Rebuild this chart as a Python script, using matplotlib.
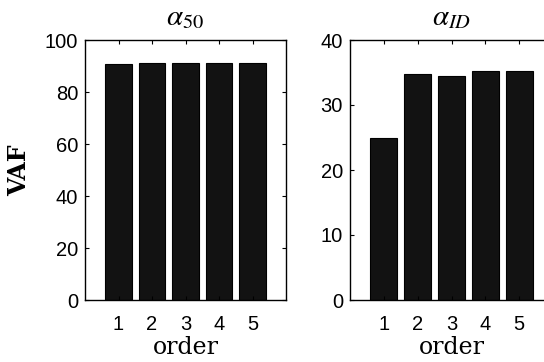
import matplotlib
matplotlib.use("Agg")
import matplotlib.pyplot as plt

order = [1, 2, 3, 4, 5]
vaf_50 = [90.8, 91.2, 91.0, 91.0, 91.0]
vaf_id = [24.9, 34.8, 34.5, 35.3, 35.3]

plt.rcParams["mathtext.fontset"] = "stix"
plt.rcParams["font.family"] = "Liberation Sans"
serif = "DejaVu Serif"

fig = plt.figure(figsize=(5.44, 3.62), dpi=100)
W, H = 544.0, 362.0
ax1 = fig.add_axes([85 / W, 62 / H, 201 / W, 260 / H])
ax2 = fig.add_axes([350 / W, 62 / H, 203 / W, 260 / H])

for ax, vals, ymax, yt, title in [
    (ax1, vaf_50, 100, range(0, 101, 20), r"$\alpha_{50}$"),
    (ax2, vaf_id, 40, range(0, 41, 10), r"$\alpha_{ID}$"),
]:
    ax.bar(order, vals, width=0.8, color="#121212", edgecolor="black", linewidth=0.8)
    ax.set_xlim(0, 6)
    ax.set_ylim(0, ymax)
    ax.set_xticks(order)
    ax.set_yticks(list(yt))
    ax.tick_params(axis="both", direction="in", top=True, right=True,
                   labelsize=14.5, length=3, width=0.8)
    ax.tick_params(axis="x", pad=11)
    ax.tick_params(axis="y", pad=5)
    for s in ax.spines.values():
        s.set_linewidth(1.0)
    ax.set_title(title, fontsize=21, pad=11)
    ax.set_xlabel("order", fontsize=17, family=serif, labelpad=1)

ax1.set_ylabel("VAF", fontsize=17, family=serif, fontweight="bold", labelpad=10)

fig.savefig("out.png", dpi=100)
